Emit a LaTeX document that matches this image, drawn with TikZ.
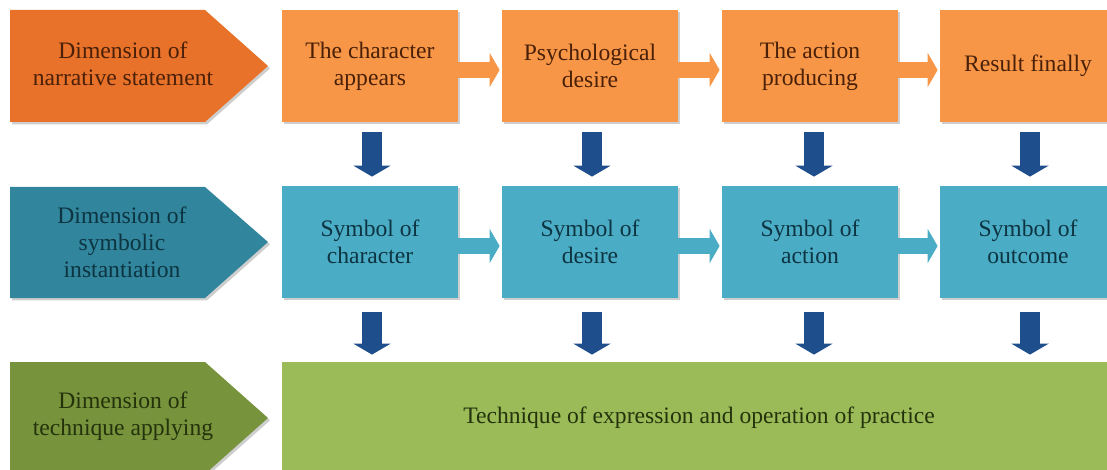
\documentclass[tikz,border=0pt]{standalone}
\usepackage{fontspec}
\setmainfont{Liberation Serif}
\usetikzlibrary{arrows.meta}
\usetikzlibrary{shadows}
\definecolor{narrdark}{HTML}{E8722A}
\definecolor{narrbox}{HTML}{F79646}
\definecolor{narrtext}{HTML}{4A2008}
\definecolor{symbdark}{HTML}{31859C}
\definecolor{symbbox}{HTML}{4BACC6}
\definecolor{symbtext}{HTML}{0D3441}
\definecolor{techdark}{HTML}{77933C}
\definecolor{techbox}{HTML}{9BBB59}
\definecolor{techtext}{HTML}{24330B}
\definecolor{downblue}{HTML}{1F4E8C}
\tikzset{
  shade box/.style={drop shadow={shadow xshift=1pt, shadow yshift=-1.2pt, opacity=0.35, fill=black!55}},
  stagebox/.style={shade box, minimum width=88pt, minimum height=56pt, inner sep=0pt, align=center,
    font=\fontsize{11.8}{13.5}\selectfont},
  dimtext/.style={align=center, inner sep=0pt, font=\fontsize{11.8}{13.5}\selectfont},
  downarrow/.style={downblue, line width=10pt, -{Triangle[width=18.5pt, length=5.5pt]}},
  sidearrow/.style={line width=8pt, -{Triangle[width=17pt, length=5pt]}, shorten >=1pt}
}
\begin{document}
\begin{tikzpicture}[x=0.5pt, y=-0.5pt]
\useasboundingbox (0,0) rectangle (1107,470);
\fill[shade box, narrdark] (10,10) -- (205,10) -- (268,66) -- (205,122) -- (10,122) -- cycle;
\fill[shade box, symbdark] (10,187) -- (205,187) -- (268,242) -- (205,298) -- (10,298) -- cycle;
\fill[shade box, techdark] (10,362) -- (205,362) -- (268,418) -- (205,474) -- (10,474) -- cycle;
\node[dimtext, text=narrtext] (dn) at (123,64) {Dimension of\\narrative statement};
\node[dimtext, text=symbtext] (ds) at (122,242) {Dimension of\\symbolic\\instantiation};
\node[dimtext, text=techtext] (dt) at (123,416) {Dimension of\\technique applying};
\node[stagebox, fill=narrbox, text=narrtext] (n1) at (370,66) {The character\\appears};
\node[stagebox, fill=narrbox, text=narrtext] (n2) at (590,66) {Psychological\\desire};
\node[stagebox, fill=narrbox, text=narrtext] (n3) at (810,66) {The action\\producing};
\node[stagebox, fill=narrbox, text=narrtext] (n4) at (1028,66) {Result finally};
\node[stagebox, fill=symbbox, text=symbtext] (s1) at (370,242) {Symbol of\\character};
\node[stagebox, fill=symbbox, text=symbtext] (s2) at (590,242) {Symbol of\\desire};
\node[stagebox, fill=symbbox, text=symbtext] (s3) at (810,242) {Symbol of\\action};
\node[stagebox, fill=symbbox, text=symbtext] (s4) at (1028,242) {Symbol of\\outcome};
\node[stagebox, fill=techbox, text=techtext, minimum width=417pt] (t) at (699,418) {Technique of expression and operation of practice};
\draw[sidearrow, narrbox] ([yshift=-2pt]n1.east) -- ([yshift=-2pt]n2.west);
\draw[sidearrow, narrbox] ([yshift=-2pt]n2.east) -- ([yshift=-2pt]n3.west);
\draw[sidearrow, narrbox] ([yshift=-2pt]n3.east) -- ([yshift=-2pt]n4.west);
\draw[sidearrow, symbbox] ([yshift=-2pt]s1.east) -- ([yshift=-2pt]s2.west);
\draw[sidearrow, symbbox] ([yshift=-2pt]s2.east) -- ([yshift=-2pt]s3.west);
\draw[sidearrow, symbbox] ([yshift=-2pt]s3.east) -- ([yshift=-2pt]s4.west);
\draw[downarrow, shorten <=5pt, shorten >=4.5pt] ([xshift=1pt]n1.south) -- ([xshift=1pt]s1.north);
\draw[downarrow, shorten <=5pt, shorten >=4.5pt] ([xshift=1pt]n2.south) -- ([xshift=1pt]s2.north);
\draw[downarrow, shorten <=5pt, shorten >=4.5pt] ([xshift=2pt]n3.south) -- ([xshift=2pt]s3.north);
\draw[downarrow, shorten <=5pt, shorten >=4.5pt] ([xshift=1pt]n4.south) -- ([xshift=1pt]s4.north);
\draw[downarrow, shorten <=7pt, shorten >=3.5pt] ([xshift=1pt]s1.south) -- ([xshift=1pt]s1.south |- t.north);
\draw[downarrow, shorten <=7pt, shorten >=3.5pt] ([xshift=1pt]s2.south) -- ([xshift=1pt]s2.south |- t.north);
\draw[downarrow, shorten <=7pt, shorten >=3.5pt] ([xshift=2pt]s3.south) -- ([xshift=2pt]s3.south |- t.north);
\draw[downarrow, shorten <=7pt, shorten >=3.5pt] ([xshift=1pt]s4.south) -- ([xshift=1pt]s4.south |- t.north);
\end{tikzpicture}
\end{document}
